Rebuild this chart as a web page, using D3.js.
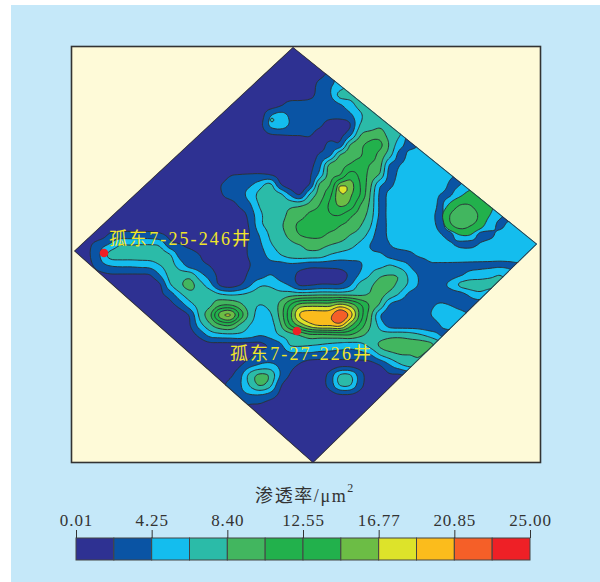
<!DOCTYPE html>
<html><head><meta charset="utf-8">
<script src="https://cdn.jsdelivr.net/npm/d3@7"></script>
<style>
html,body{margin:0;padding:0;background:#fff}
svg{display:block}
</style></head><body>
<svg id="c" width="600" height="582"></svg>
<script>
// Permeability (um^2) on a regular sampling lattice; 48 columns, 43 rows.
const permeabilityRows = [
[1,1,1,1,1,1,1,1,1,1, 1,1,1,1,1,1,1,1,1,1, 1,1,1,1,1,1,1,1,1,1, 1,1,1,1,1,1,1,1,1,1, 1,1,1,1,1,1,1,1],
[1,1,1,1,1,1,1,1,1,1, 1,1,1,1,1,1,1,1,1,1, 1,1,1,1,1,1,1,1,1,1, 1,1,1,1,1,1,1,1,1,1, 1,1,1,1,1,1,1,1],
[1,1,1,1,1,1,1,1,1,1, 1,1,1,1,1,1,1,1,1,1, 1,1,1,1,1,1,1,1,1,1, 1,1,1,1,1,1,1,1,1,1, 1,1,1,1,1,1,1,1],
[1,1,1,1,1,1,1,1,1,1, 1,1,1,1,1,1,1,1,1,1, 1,1,1,1,1,1.5,3,5,7,7, 7,7,7,7,7,7,7,7,7,7, 7,7,7,7,7,7,7,7],
[1,1,1,1,1,1,1,1,1,1, 1,1,1,1,1,1,1,1,1,1, 1,1,1,1,1,3,4,5,7,7, 7,7,7,7,7,7,7,7,7,7, 7,7,7,7,7,7,7,7],
[1,1,1,1,1,1,1,1,1,1, 1,1,1,1,1,1,1,1,1,1, 1,1,1,1,1.5,3,4,7,7,7, 7,7,7,7,7,7,7,7,7,7, 7,7,7,7,7,7,7,7],
[1,1,1,1,1,1,1,1,1,1, 1,1,1,1,1,1,1,1,1,1, 1,1.8,3,3,3,3,3,4,5.5,7, 7,7,7,7,7,7,7,7,7,7, 7,7,7,7,7,7,7,7],
[1,1,1,1,1,1,1,1,1,1, 1,1,1,1,1,1,1,1,1,1, 3.9,5,3.9,3,3,3,3,3,3.8,6, 7,7,7,7,7,7,7,7,7,7, 7,7,7,7,7,7,7,7],
[1,1,1,1,1,1,1,1,1,1, 1,1,1,1,1,1,1,1,1,1.5, 4.6,5.5,4,3,3,2.5,1,1,2,6.4, 7,8,7,7,7,7,7,7,7,7, 7,7,7,7,7,7,7,7],
[1,1,1,1,1,1,1,1,1,1, 1,1,1,1,1,1,1,1,1,1, 1.9,2.1,2.2,2.2,2.3,1,1,1.5,3.8,8.2, 9.5,9.5,7.5,6.4,3.6,5,5.3,5.3,5.3,5.3, 5.3,5.3,5.3,5.3,5.3,5.3,5.3,5.3],
[1,1,1,1,1,1,1,1,1,1, 1,1,1,1,1,1,1,1,1,1, 1,1,1,1,1,1,3,3,8.4,10, 11,11,8,5,3.6,4.5,5.3,5.3,5.3,5.3, 5.3,5.3,5.3,5.3,5.3,5.3,5.3,5.3],
[1,1,1,1,1,1,1,1,1,1, 1,1,1,1,1,1,1,1,1,1, 1,1,1,1,1,2.5,3.8,8.4,9.5,10.2, 11.5,9.6,7,3.5,5,5.3,5.3,5.3,5.3,5.3, 5.3,5.3,5.3,5.3,5.3,5.3,5.3,5.3],
[1,1,1,1,1,1,1,1,1,1, 1,1,1,1,1,1,1,1,1,1, 1,1,1,1,1.5,3.9,9,9.7,10.7,11.5, 10.4,9,4,4.25,5.3,5.3,5.3,5.3,5.3,5.3, 5.3,5.3,5.3,5.3,5.3,5.3,5.3,5.3],
[1,1,1,1,1,1,1,1,1,1, 1,1,1,1,1,1,2,2.2,2.3,2.4, 2.2,1.4,1,1,1.9,5.2,9.5,10.5,13.5,12, 9.8,8,3.5,5,5.3,5.3,5.3,5.3,4.6,3.9, 3.9,5.3,5.3,5.3,5.3,5.3,5.3,5.3],
[1,1,1,1,1,1,1,1,1,1, 1,1,1,1,1,2,3,3.5,4,5.5, 7,2.6,1,1,2.5,9,10.5,15.5,15.5,12.6, 9,4.6,3.9,5.3,5.3,5.3,5.3,5.3,4,4.25, 5.3,5.3,5.3,5.3,5.3,5.3,5.3,5.3],
[1,1,1,1,1,1,1,1,1,1, 1,1,1,1,1,1.8,3,3.6,5,7, 7.2,7,4.2,2.2,6.8,9.5,12,16.2,15,12.5, 8.4,3.9,4.8,5.3,5.3,5.3,5.3,4.2,4.1,5.3, 5.3,5.3,5.3,5.3,5.3,5.3,5.3,5.3],
[1,1,1,1,1,1,1,1,1,1, 1,1,1,1,1,1,1,2.6,4,6.6, 7.5,7.6,7.8,8,9,10.6,13,15,14,10.6, 8,3.9,4.8,5.3,5.3,5.3,5.3,4,5.3,5.3, 5.3,5.3,5.3,5.3,5.3,5.3,5.3,5.3],
[1,1,1,1,1,1,1,1,1,1, 1,1,1,1,1,1,1,1,3,5.8, 7.5,7.5,9,9.5,11,11.5,12.4,12.6,11,9.5, 7.5,3.9,4.8,5.3,5.3,5.3,4.8,3.9,5.3,5.3, 5.3,5.3,5.3,4.6,3.8,5.3,5.3,5.3],
[1,1,1,1,1,1,1,1,1,1, 1,1,1,1,1,1,1,1,2.5,5.8, 7,8,9.5,11,11.5,11.7,11.5,10.6,9.8,8.6, 6.7,3.5,4.9,5.3,5.3,5.3,5,3.9,5,5.3, 5.3,5.3,5,3.9,4.8,5.3,5.3,5.3],
[1,1,1,1,2.5,3,3,3,3,2.6, 1.6,1,1,1,1,1,1,1,2.2,4.5, 6.6,7.6,9,10.5,11,11,10,9.6,8.4,7.5, 5.5,3.1,5,5.3,5.3,5.3,5.3,4.4,4,5, 5,4,3.9,4.8,5.3,5.3,5.3,5.3],
[1,1,1.9,3.5,4.6,6.3,6.3,6.4,6.4,6, 3,2.3,1.6,1,1,1,1,1,2.6,3.9, 6,7,7.8,8.4,9,9,8.4,7.8,7,5.8, 4.25,3.2,4.2,5.3,5.3,5.3,5.3,5.3,4.5,4, 3.9,4.4,5,5.3,5.3,5.3,5.3,5.3],
[1,1.2,2.1,4.25,7,7.3,7.3,7.3,7.3,7.3, 6.5,3.5,3,2.1,1,1,1,1,2.5,3.3, 5,6.2,7.2,7.6,7.6,7.4,6.2,5.6,5.3,5, 4.7,4.6,3.6,3.2,3.8,4.6,5,5.3,5.3,5.3, 5.3,5.3,5.3,5.3,5.3,5.3,5.3,5.3],
[1,1,1.7,3.5,4.5,4.8,4.8,5,5.2,6.33, 7,5.3,3.2,2.7,2,1,1,1,2.1,3, 3.7,3.5,3.8,3.5,3,3,3,3,3.5,4, 5.3,5.6,6.33,5.4,4.1,3,3.9,3.9,3.9,3.9, 3.9,3.9,3.9,3.9,3.9,3.9,3,3],
[1,1,1,1.5,1.9,1.9,1.9,1.9,2.1,4.3, 7,7.2,7.5,5,3.3,1.5,1,1,2.7,3.3, 4.3,3.5,3,1.5,1,1,1,1.4,2.5,4.6, 6.33,8,8.4,8,5.6,3.9,3,3,3.3,4, 4.9,5.2,5.6,6.3,5,3,3,3],
[1,1,1,1,1,1,1,1,1,1.9, 6,8,9,7.2,5,1.9,1.2,2.1,4,6, 6,5,4,1.9,2,2.4,2.4,2.4,4,7, 8,9.2,9,7.6,5.7,3.9,3,3.5,4.8,6.7, 7.4,7.4,7.4,7,5,3,3,3],
[1,1,1,1,1,1,1,1,1,1.7, 3,5.7,7.5,7.6,7.8,6.8,6.3,6.5,7,7.5, 7.4,7.2,7.8,8,8.2,8.4,8.4,8.4,8.3,8.2, 8.6,9,7.5,5.8,3.5,3,3,3,3,3.2, 4.6,5.5,4,3,3,3,3,3],
[1,1,1,1,1,1,1,1,1,1, 1.5,3,5.5,7.2,8,10.2,10.5,9,7.2,6.3, 7,8.9,12.5,15.5,16,16,16,17.5,16,13, 10.2,8,4,3,3,3,3.7,4.6,4.2,3.5, 3.3,3,3,3,3,3,3,3],
[1,1,1,1,1,1,1,1,1,1, 1,1,2.5,7,10,15.5,17,12,7.6,5.5, 6,9,14,19,20,20,20.3,22.9,20,14, 9.3,4.5,3,3,3,3,4.1,5.5,5.6,5, 4,3,3,3,3,3,3,3],
[1,1,1,1,1,1,1,1,1,1, 1,1,2.1,5.5,8,10.2,10.8,8.1,6.3,5.3, 5.5,8,12.5,15.5,18,19.2,19.2,19.8,15.5,12, 8.6,5.6,3.3,3,3,3,3,4.25,5.3,4.5, 3,3,3,3,3,3,3,3],
[1,1,1,1,1,1,1,1,1,1, 1,1,1.3,2.8,5,5.6,5.8,5.8,5.2,4.4, 5,6.5,7.5,8.6,10,10,10.2,10.4,10.4,9, 7.7,7.2,7.5,7.6,7.3,6.6,5.5,4.2,3,3, 3,3,3,3,3,3,3,3],
[1,1,1,1,1,1,1,1,1,1, 1,1,1,1,1.4,1.4,1.4,1.4,1.4,1.6, 2.5,3.7,6.4,6.7,6.5,6.2,5.8,5.5,5.2,5.6, 7,8.7,9.5,9.5,9.3,9.5,9,7,3,3, 3,3,3,3,3,3,3,3],
[1,1,1,1,1,1,1,1,1,1, 1,1,1,1,1,1,1,1,1.7,3, 3,3,3.6,3.6,3.6,3.3,3.4,3.4,3.4,3.5, 4,6.3,7.5,8.3,8.4,8.6,7,5,3,3, 3,3,3,3,3,3,3,3],
[1,1,1,1,1,1,1,1,1,1, 1,1,1,1,1,1,1,1.9,3.5,4.5, 4.8,3.8,2.8,1.9,1,1,1,1.5,1.5,1.3, 1.2,2.2,4.25,6,7,7,5,3,1,1, 1,1,1,1,1,1,1,1],
[1,1,1,1,1,1,1,1,1,1, 1,1,1,1,1,1,1.7,3.6,7,8.8, 8,4.25,2,1,1,1,3,6.5,6.5,3.2, 1,1,1.9,1.9,3,3,1,1,1,1, 1,1,1,1,1,1,1,1],
[1,1,1,1,1,1,1,1,1,1, 1,1,1,1,1,1.5,2.8,4,6.6,8.6, 7,2.6,1,1,1,1.3,3,6.5,6.5,3, 1,1,1,1,1,1,1,1,1,1, 1,1,1,1,1,1,1,1],
[1,1,1,1,1,1,1,1,1,1, 1,1,1,1,1,1,2.5,3.5,4.1,4.2, 3.4,1.7,1,1,1,1,1.3,1.9,1.9,1.3, 1,1,1,1,1,1,1,1,1,1, 1,1,1,1,1,1,1,1],
[1,1,1,1,1,1,1,1,1,1, 1,1,1,1,1,1,1,2.5,2,1.9, 1.2,1,1,1,1,1,1,1,1,1, 1,1,1,1,1,1,1,1,1,1, 1,1,1,1,1,1,1,1],
[1,1,1,1,1,1,1,1,1,1, 1,1,1,1,1,1,1,1,1,1, 1,1,1,1,1,1,1,1,1,1, 1,1,1,1,1,1,1,1,1,1, 1,1,1,1,1,1,1,1],
[1,1,1,1,1,1,1,1,1,1, 1,1,1,1,1,1,1,1,1,1, 1,1,1,1,1,1,1,1,1,1, 1,1,1,1,1,1,1,1,1,1, 1,1,1,1,1,1,1,1],
[1,1,1,1,1,1,1,1,1,1, 1,1,1,1,1,1,1,1,1,1, 1,1,1,1,1,1,1,1,1,1, 1,1,1,1,1,1,1,1,1,1, 1,1,1,1,1,1,1,1],
[1,1,1,1,1,1,1,1,1,1, 1,1,1,1,1,1,1,1,1,1, 1,1,1,1,1,1,1,1,1,1, 1,1,1,1,1,1,1,1,1,1, 1,1,1,1,1,1,1,1],
[1,1,1,1,1,1,1,1,1,1, 1,1,1,1,1,1,1,1,1,1, 1,1,1,1,1,1,1,1,1,1, 1,1,1,1,1,1,1,1,1,1, 1,1,1,1,1,1,1,1],
[1,1,1,1,1,1,1,1,1,1, 1,1,1,1,1,1,1,1,1,1, 1,1,1,1,1,1,1,1,1,1, 1,1,1,1,1,1,1,1,1,1, 1,1,1,1,1,1,1,1]
];
// Colour class limits (um^2), 12 classes.
const classLimits = [0.01,2.13,4.25,6.33,8.40,10.48,12.55,14.66,16.77,18.81,20.85,22.93,25.00];
const classColors = ["#2e3192","#0a54a4","#14bdee","#2bbba8","#42b65f","#22b14c","#22b14c","#6cbd45","#dde32a","#fbbc1c","#f55f28","#ee2026"];
const legendTicks = ["0.01","4.25","8.40","12.55","16.77","20.85","25.00"];
// Eastern lobe, sampled on the same lattice from column 36, row 13.
const eastLobeRows = [
[0,0,0,0,0,0,0,0,0],
[0,0,0,0,0.5,1.5,1.5,1.5,1.5],
[0,0,0.3,0.8,1.5,1.5,1.5,1.5,1.5],
[0,0.2,1.2,2,2,1.5,1.5,0,0],
[0,0.7,2,2.6,2.6,1.8,1,0,0],
[0,0.4,1.8,2.5,2.1,1.5,0.4,0,0],
[0,0,0.3,1,1,0.2,0,0,0],
[0,0,0,0,0,0,0,0,0]
];
const eastLobeColors = ["#22b14c","#42b65f"];
// Tiny spots finer than the lattice: [column, row, lattice step, class colour, samples]
const fineSpots = [
 {col:26.7,row:13.9,step:0.3,color:"#dde32a",rows:[[0,0,0,0,0],[0,1.3,1.6,1.3,0],[0,1.5,1.8,1.5,0],[0,0.6,1.4,0.6,0],[0,0,0,0,0]]},
 {col:19.8,row:7.1,step:0.4,color:"#2bbba8",rows:[[0,0,0],[0,1.7,0],[0,0,0]]}
];
const mapOutline = [[22.3,0.2],[46.7,19.9],[24.3,41.8],[0.4,20.6]];
const wells = [
 {name:"孤东7-25-246井",col:3.4,row:20.8,labelCol:3.9,labelRow:20.0},
 {name:"孤东7-27-226井",col:22.7,row:28.6,labelCol:16.0,labelRow:31.5}
];

const svg = d3.select("#c");
const col = d3.scaleLinear().domain([0,47]).range([70,540]);
const row = d3.scaleLinear().domain([0,42]).range([45,465]);

svg.append("rect").attr("x",11).attr("y",5).attr("width",589).attr("height",577).attr("fill","#c5e8f9");
svg.append("rect").attr("x",71.5).attr("y",46.5).attr("width",469).attr("height",416)
  .attr("fill","#fefad8").attr("stroke","#333").attr("stroke-width",1.6);

const outlineD = d3.line().x(d=>col(d[0])).y(d=>row(d[1])).curve(d3.curveLinearClosed)(mapOutline);
svg.append("clipPath").attr("id","map").append("path").attr("d",outlineD);
const map = svg.append("g").attr("clip-path","url(#map)");
map.append("path").attr("d",outlineD).attr("fill",classColors[0]);

// Resample a lattice through Catmull-Rom cubics so the isolines come out smooth.
const cubic=(a,b,c,d,t)=>0.5*(2*b+(c-a)*t+(2*a-5*b+4*c-d)*t*t+(3*b-a-3*c+d)*t*t*t);
function refine(rows,k){
  const n=rows[0].length,m=rows.length,N=(n-1)*k+1,M=(m-1)*k+1,out=new Array(N*M);
  const at=(i,j)=>rows[Math.max(0,Math.min(m-1,j))][Math.max(0,Math.min(n-1,i))];
  for(let J=0;J<M;J++){
    const j=Math.min(m-2,Math.floor(J/k)),v=J/k-j;
    for(let I=0;I<N;I++){
      const i=Math.min(n-2,Math.floor(I/k)),u=I/k-i;
      const r=[-1,0,1,2].map(dj=>cubic(at(i-1,j+dj),at(i,j+dj),at(i+1,j+dj),at(i+2,j+dj),u));
      out[J*N+I]=cubic(r[0],r[1],r[2],r[3],v);
    }
  }
  return {values:out,N,M};
}
const ringLine = d3.line().curve(d3.curveBasisClosed);
function drawGrid(rows, x0, y0, step, thresholds, colors, k){
  const f=refine(rows,k);
  const gen=d3.contours().size([f.N,f.M]).thresholds(thresholds);
  gen(f.values).forEach((g,i)=>{
    const parts=[];
    for(const poly of g.coordinates) for(const ring of poly){
      const pts=ring.slice(0,-1).map(p=>[col(x0+(p[0]-0.5)/k*step),row(y0+(p[1]-0.5)/k*step)]);
      parts.push(ringLine(pts));
    }
    map.append("path").attr("d",parts.join("")).attr("fill",colors[i]).attr("fill-rule","evenodd")
      .attr("stroke","#2b3338").attr("stroke-width",1).attr("stroke-linejoin","round");
  });
}
drawGrid(permeabilityRows,0,0,1,classLimits.slice(1,-1),classColors.slice(1),4);
drawGrid(eastLobeRows,36,13,1,[1,2],eastLobeColors,4);
fineSpots.forEach(s=>drawGrid(s.rows,s.col,s.row,s.step,[1],[s.color],4));
map.append("path").attr("d",outlineD).attr("fill","none").attr("stroke","#333").attr("stroke-width",1.6);

const wellG = svg.append("g");
wellG.selectAll("circle").data(wells).join("circle")
  .attr("cx",d=>col(d.col)).attr("cy",d=>row(d.row)).attr("r",4.3).attr("fill","#ee2026");
wellG.selectAll("text").data(wells).join("text")
  .attr("x",d=>col(d.labelCol)).attr("y",d=>row(d.labelRow))
  .attr("font-family","'Liberation Serif','Noto Sans CJK SC',serif").attr("font-size",18)
  .attr("letter-spacing",2.1).attr("fill","#f0e52a").text(d=>d.name);

// Legend
const legendX = d3.scaleLinear().domain([0,12]).range([76,530]);
const legendG = svg.append("g");
legendG.selectAll("rect").data(classColors).join("rect")
  .attr("x",(d,i)=>legendX(i)).attr("y",538).attr("width",legendX(1)-legendX(0)).attr("height",22)
  .attr("fill",d=>d).attr("stroke","#444").attr("stroke-width",1);
const axis = d3.axisTop(legendX).tickValues(d3.range(0,13,2)).tickSize(8).tickPadding(4)
  .tickFormat((d,i)=>legendTicks[i]);
const ax = svg.append("g").attr("transform","translate(0,538)").call(axis);
ax.select(".domain").remove();
ax.selectAll("line").attr("stroke","#333").attr("stroke-width",1);
ax.selectAll("text").attr("font-family","'Liberation Serif',serif").attr("font-size",17)
  .attr("letter-spacing",0.9).attr("fill","#333");
const title = svg.append("text").attr("x",305).attr("y",502).attr("text-anchor","middle")
  .attr("font-family","'Liberation Serif','Noto Sans CJK SC',serif").attr("font-size",18)
  .attr("letter-spacing",1.6).attr("fill","#333");
title.append("tspan").text("渗透率/μm");
title.append("tspan").attr("dy",-10).attr("font-size",12).text("2");
</script></body></html>
